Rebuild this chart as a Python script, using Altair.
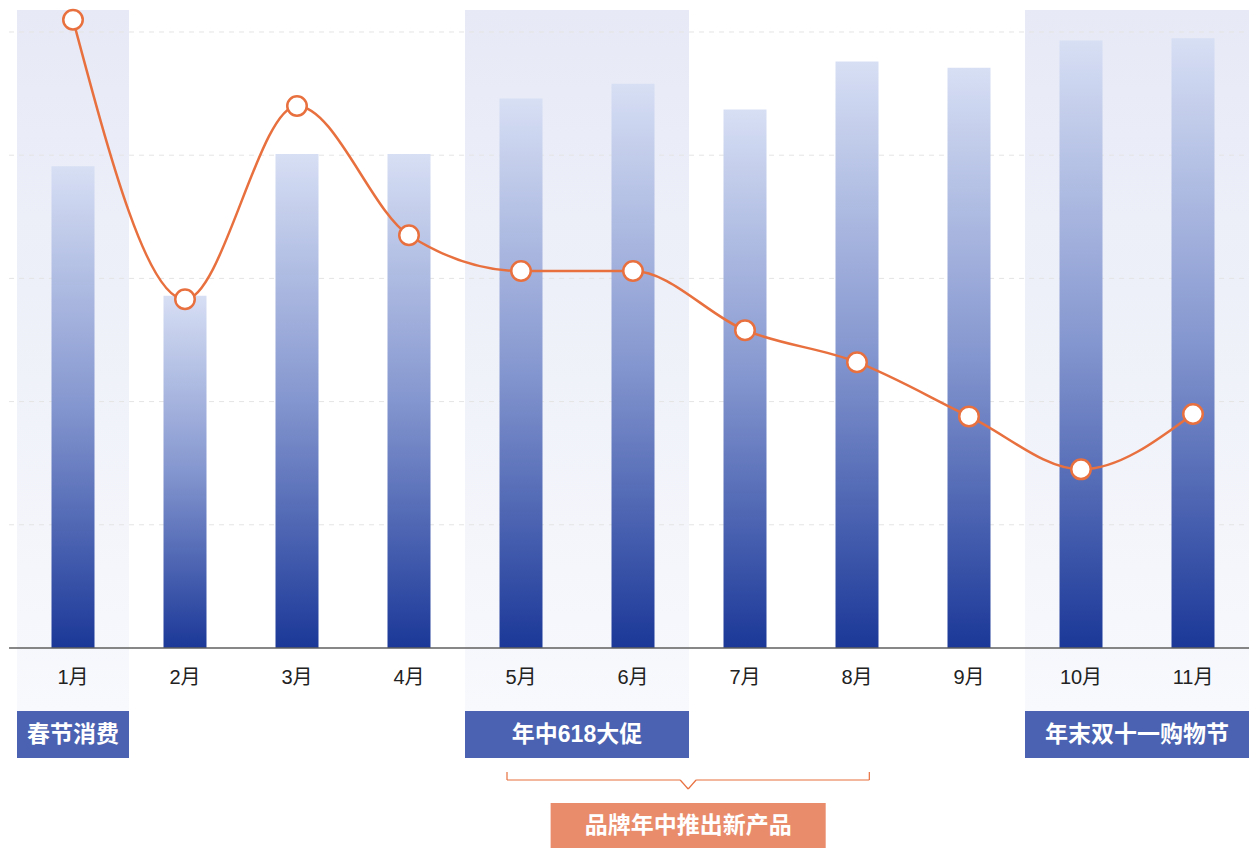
import altair as alt
import pandas as pd

# ---------------- data ----------------
months = ["1月", "2月", "3月", "4月", "5月", "6月", "7月", "8月", "9月", "10月", "11月"]
bar_values = [3.91, 2.86, 4.01, 4.01, 4.46, 4.58, 4.37, 4.76, 4.71, 4.93, 4.95]
line_values = [5.10, 2.83, 4.40, 3.35, 3.06, 3.06, 2.58, 2.32, 1.88, 1.45, 1.90]
grid_values = [1, 2, 3, 4, 5]

group_labels = ["春节消费", "年中618大促", "年末双十一购物节"]
group_starts = ["1月", "5月", "10月"]
group_ends = ["1月", "6月", "11月"]

launch_label = "品牌年中推出新产品"
launch_start = "5月"
launch_end = "8月"

# ---------------- layout ----------------
W, H = 1249, 848
FONT = "Liberation Sans, Noto Sans CJK SC"
ORANGE = "#e8703f"
idx = {m: i for i, m in enumerate(months)}

xs = alt.Scale(domain=[-0.6518, 10.5], nice=False, zero=False)
ys = alt.Scale(domain=[-1.6234, 5.2597], nice=False, zero=False)

df = pd.DataFrame({"month": months, "i": list(range(len(months))),
                   "bar": bar_values, "line": line_values})
df["bl"] = df["i"] - 0.192
df["br"] = df["i"] + 0.192
df["zero"] = 0.0

hl = pd.DataFrame({"label": group_labels,
                   "x0": [idx[s] - 0.5 for s in group_starts],
                   "x1": [idx[e] + 0.5 for e in group_ends]})
hl["xc"] = (hl["x0"] + hl["x1"]) / 2

grid = pd.DataFrame({"v": grid_values})
grid["x0"] = -0.571
grid["x1"] = 10.5
base = pd.DataFrame({"v": [0.0], "x0": [-0.571], "x1": [10.5]})

# bracket under 5月–8月
l = idx[launch_start] - 0.125
r = idx[launch_end] + 0.11
c = (l + r) / 2
nw = 0.071
seg = pd.DataFrame([
    (l, 772, l, 780),
    (l, 780, c - nw, 780),
    (c - nw, 780, c, 789),
    (c, 789, c + nw, 780),
    (c + nw, 780, r, 780),
    (r, 780, r, 772),
], columns=["xa", "ya", "xb", "yb"])
launch = pd.DataFrame({"label": [launch_label], "x0": [c - 1.228], "x1": [c + 1.228], "xc": [c]})

shade_grad = alt.Gradient(
    gradient="linear",
    stops=[alt.GradientStop(color="#e7eaf6", offset=0),
           alt.GradientStop(color="#f8f9fd", offset=1)],
    x1=0, x2=0, y1=0, y2=1)
bar_grad = alt.Gradient(
    gradient="linear",
    stops=[alt.GradientStop(color="#d7dff4", offset=0),
           alt.GradientStop(color="#8496cf", offset=0.5),
           alt.GradientStop(color="#1b3898", offset=1)],
    x1=0, x2=0, y1=0, y2=1)

shade = alt.Chart(hl).mark_rect(color=shade_grad).encode(
    x=alt.X("x0:Q", scale=xs, axis=None), x2="x1:Q",
    y=alt.value(10), y2=alt.value(711))

boxes = alt.Chart(hl).mark_rect(color="#4a62b1").encode(
    x=alt.X("x0:Q", scale=xs, axis=None), x2="x1:Q",
    y=alt.value(711), y2=alt.value(758))
box_text = alt.Chart(hl).mark_text(color="white", fontSize=23, font=FONT, fontWeight="bold").encode(
    x=alt.X("xc:Q", scale=xs, axis=None), y=alt.value(735), text="label:N")

grid_rules = alt.Chart(grid).mark_rule(color="#e4e4e4", strokeDash=[5, 5], strokeWidth=1).encode(
    x=alt.X("x0:Q", scale=xs, axis=None), x2="x1:Q",
    y=alt.Y("v:Q", scale=ys, axis=None))

bars = alt.Chart(df).mark_rect(color=bar_grad).encode(
    x=alt.X("bl:Q", scale=xs, axis=None), x2="br:Q",
    y=alt.Y("bar:Q", scale=ys, axis=None), y2="zero:Q")

baseline = alt.Chart(base).mark_rule(color="#5f5f5f", strokeWidth=1.5).encode(
    x=alt.X("x0:Q", scale=xs, axis=None), x2="x1:Q",
    y=alt.Y("v:Q", scale=ys, axis=None))

line = alt.Chart(df).mark_line(color=ORANGE, strokeWidth=2.5, interpolate="monotone").encode(
    x=alt.X("i:Q", scale=xs, axis=None), y=alt.Y("line:Q", scale=ys, axis=None))

points = alt.Chart(df).mark_point(shape="circle", filled=True, fill="white", stroke=ORANGE,
                                  strokeWidth=2.5, size=380, opacity=1).encode(
    x=alt.X("i:Q", scale=xs, axis=None), y=alt.Y("line:Q", scale=ys, axis=None))

month_text = alt.Chart(df).mark_text(fontSize=20, color="#222222", font=FONT).encode(
    x=alt.X("i:Q", scale=xs, axis=None), y=alt.value(678), text="month:N")

bracket = alt.Chart(seg).mark_rule(color=ORANGE, strokeWidth=1.2).encode(
    x=alt.X("xa:Q", scale=xs, axis=None), x2="xb:Q",
    y=alt.Y("ya:Q", scale=None, axis=None), y2="yb:Q")

launch_box = alt.Chart(launch).mark_rect(color="#e98c6c").encode(
    x=alt.X("x0:Q", scale=xs, axis=None), x2="x1:Q",
    y=alt.value(803), y2=alt.value(848))
launch_text = alt.Chart(launch).mark_text(color="white", fontSize=23, font=FONT, fontWeight="bold").encode(
    x=alt.X("xc:Q", scale=xs, axis=None), y=alt.value(826), text="label:N")

chart = alt.layer(
    shade, grid_rules, bars, baseline, line, points, month_text,
    boxes, box_text, bracket, launch_box, launch_text
).properties(
    width=W, height=H, padding=0,
    autosize=alt.AutoSizeParams(type="none"),
    background="white"
).configure_view(stroke=None)

chart.save("out.html", embed_options={"renderer": "svg", "actions": False})
